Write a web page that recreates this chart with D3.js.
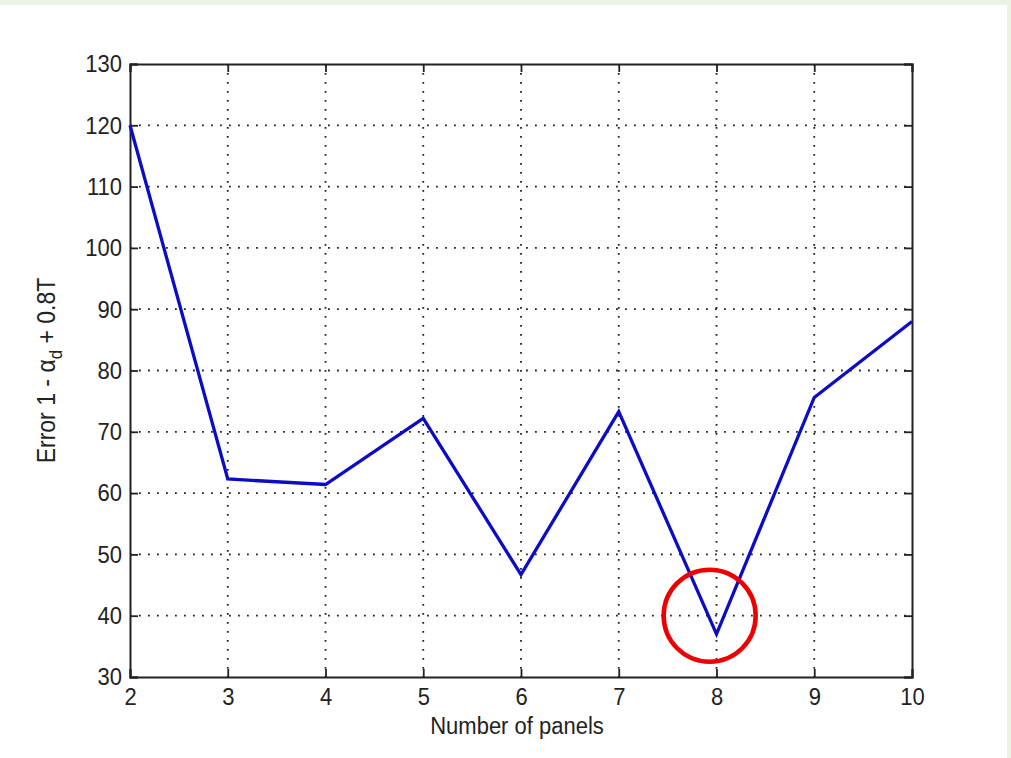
<!DOCTYPE html>
<html>
<head>
<meta charset="utf-8">
<script src="https://cdn.jsdelivr.net/npm/d3@7"></script>
<style>
  html, body { margin: 0; padding: 0; background: #fff; }
  svg { display: block; }
</style>
</head>
<body>
<div id="chart"></div>
<script>
// number of panels vs. error
const panels = [2, 3, 4, 5, 6, 7, 8, 9, 10];
const errors = [120, 62.3, 61.4, 72.2, 46.7, 73.3, 37, 75.6, 88];
const xTicks = [2, 3, 4, 5, 6, 7, 8, 9, 10];
const yTicks = [30, 40, 50, 60, 70, 80, 90, 100, 110, 120, 130];
// highlighted minimum (circle centre in data units)
const marked = [7.93, 40];

const width = 1011;
const height = 758;
const margin = { top: 64, right: 99, bottom: 81, left: 130 };
const font = "'Liberation Sans', Arial, sans-serif";
const stretch = "scale(1,1.12)"; // MATLAB text looks a bit tall

const svg = d3
  .select("#chart")
  .append("svg")
  .attr("width", width)
  .attr("height", height);

// light green page frame
svg.append("rect").attr("x", 0).attr("y", 0).attr("width", width).attr("height", 5).attr("fill", "#eaf3e4");
svg.append("rect").attr("x", 1007).attr("y", 0).attr("width", 4).attr("height", height).attr("fill", "#eaf3e4");

const x = d3
  .scaleLinear()
  .domain([2, 10])
  .range([margin.left, width - margin.right]);

const y = d3
  .scaleLinear()
  .domain([30, 130])
  .range([height - margin.bottom, margin.top]);

const g = svg.append("g");

// dotted grid
g.selectAll(".vgrid")
  .data(xTicks.slice(1, -1))
  .enter()
  .append("line")
  .attr("x1", d => x(d))
  .attr("x2", d => x(d))
  .attr("y1", y(130))
  .attr("y2", y(30))
  .attr("stroke", "#222")
  .attr("stroke-width", 1.8)
  .attr("stroke-dasharray", "1.8,7.2");

g.selectAll(".hgrid")
  .data(yTicks.slice(1, -1))
  .enter()
  .append("line")
  .attr("x1", x(2))
  .attr("x2", x(10))
  .attr("y1", d => y(d))
  .attr("y2", d => y(d))
  .attr("stroke", "#222")
  .attr("stroke-width", 1.8)
  .attr("stroke-dasharray", "1.8,7.2");

// axes (MATLAB style, ticks inside on all sides)
const tick = 8;
const bottomAxis = d3.axisBottom(x).tickValues(xTicks).tickSize(-tick).tickPadding(9);
const leftAxis = d3.axisLeft(y).tickValues(yTicks).tickSize(-tick).tickPadding(8);
const topAxis = d3.axisTop(x).tickValues(xTicks).tickSize(-tick).tickFormat("");
const rightAxis = d3.axisRight(y).tickValues(yTicks).tickSize(-tick).tickFormat("");

const axes = [
  [bottomAxis, `translate(0,${y(30)})`],
  [leftAxis, `translate(${x(2)},0)`],
  [topAxis, `translate(0,${y(130)})`],
  [rightAxis, `translate(${x(10)},0)`]
];

axes.forEach(([ax, tr]) => {
  const a = g.append("g").attr("transform", tr).call(ax);
  a.select(".domain").attr("stroke", "#222").attr("stroke-width", 2);
  a.selectAll(".tick line").attr("stroke", "#222").attr("stroke-width", 1.8);
  a.selectAll(".tick text")
    .attr("font-family", font)
    .attr("font-size", "22px")
    .attr("fill", "#222")
    .attr("transform", stretch);
});

// data line
const line = d3
  .line()
  .x((d, i) => x(panels[i]))
  .y(d => y(d));

g.append("path")
  .datum(errors)
  .attr("fill", "none")
  .attr("stroke", "#0c0cc4")
  .attr("stroke-width", 3.3)
  .attr("stroke-linejoin", "miter")
  .attr("d", line);

// red circle around the minimum
g.append("circle")
  .attr("cx", x(marked[0]))
  .attr("cy", y(marked[1]))
  .attr("r", 46)
  .attr("fill", "none")
  .attr("stroke", "#ee0000")
  .attr("stroke-width", 4.5);

// axis titles
svg.append("g")
  .attr("transform", `translate(${(x(2) + x(10)) / 2 - 4},734)`)
  .append("text")
  .attr("transform", stretch)
  .attr("text-anchor", "middle")
  .attr("font-family", font)
  .attr("font-size", "22px")
  .attr("fill", "#222")
  .text("Number of panels");

const ylab = svg.append("text")
  .attr("transform", `translate(55,${(y(30) + y(130)) / 2}) rotate(-90) ${stretch}`)
  .attr("text-anchor", "middle")
  .attr("font-family", font)
  .attr("font-size", "23px")
  .attr("fill", "#222");

ylab.append("tspan").text("Error 1 - \u03b1");
ylab.append("tspan").attr("dy", 6).attr("font-size", "17px").text("d");
ylab.append("tspan").attr("dy", -6).text(" + 0.8T");
</script>
</body>
</html>
